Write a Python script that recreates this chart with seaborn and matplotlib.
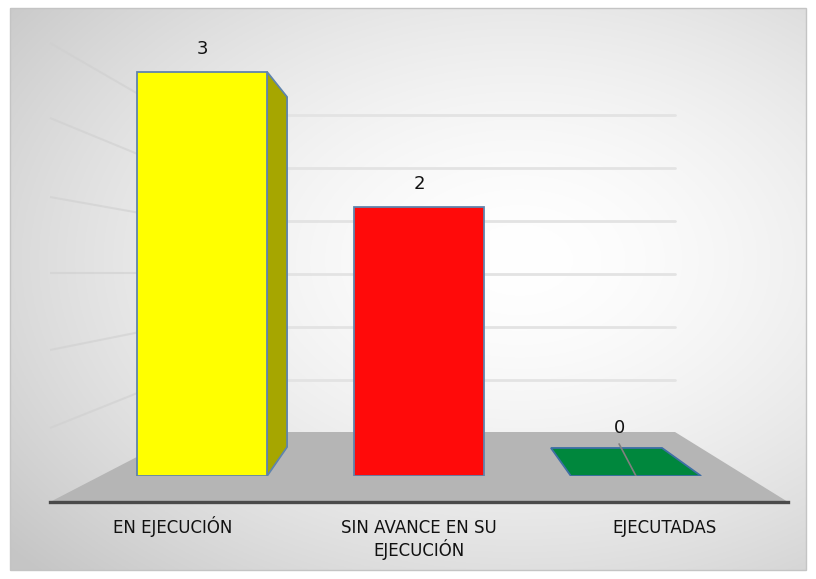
import numpy as np
import matplotlib
matplotlib.use("Agg")
import matplotlib.pyplot as plt
import matplotlib.transforms as mtransforms
import seaborn as sns
from matplotlib.patches import Polygon, Rectangle

# data
categories = ['EN EJECUCIÓN', 'SIN AVANCE EN SU\nEJECUCIÓN', 'EJECUTADAS']
values = [3, 2, 0]
bar_colors = ['#ffff00', '#ff0a0a', '#00873d']

sns.set_theme(style='white')
plt.rcParams['font.family'] = ['DejaVu Sans']

W, H = 816, 579
fig = plt.figure(figsize=(W / 100, H / 100), dpi=100)

# background axes in pixel coordinates (decoration only)
bg = fig.add_axes([0, 0, 1, 1], zorder=0)
bg.set_xlim(0, W)
bg.set_ylim(H, 0)
bg.axis('off')

xx, yy = np.meshgrid(np.linspace(10, 806, 400), np.linspace(8, 570, 300))
d = np.sqrt(((xx - 520) / 640) ** 2 + ((yy - 260) / 430) ** 2)
g = 1 - 0.21 * np.clip(d, 0, 1.05) ** 1.6
bg.imshow(np.dstack([g, g, g]), extent=(10, 806, 570, 8), aspect='auto', zorder=0)
bg.add_patch(Rectangle((10, 8), 796, 562, fill=False, ec='#c4c4c4', lw=1, zorder=1))

# side wall lines
for y0, y1 in [(43, 95), (118, 155), (197, 213), (273, 273), (350, 332), (428, 392)]:
    bg.plot([50, 140], [y0, y1], color='#cfcfcf', lw=1.5, alpha=0.6, zorder=1,
            solid_capstyle='butt')

# back wall gridlines
for y in [115, 168, 221, 274, 327, 380]:
    bg.plot([185, 675], [y, y], color='#e3e3e3', lw=2, zorder=1)

# floor
bg.add_patch(Polygon([(50, 502), (185, 432), (675, 432), (788, 502)],
                     closed=True, fc='#b5b5b5', ec='none', zorder=2))

# category axis along the front floor edge
ax_lab = fig.add_axes([50 / W, (H - 502) / H, 738 / W, 0.01], zorder=1)
ax_lab.patch.set_alpha(0)
ax_lab.set_xlim(-0.5, 2.5)
ax_lab.set_xticks([])
ax_lab.set_yticks([])
for s in ['top', 'left', 'right']:
    ax_lab.spines[s].set_visible(False)
ax_lab.spines['bottom'].set_color('#4a4a4a')
ax_lab.spines['bottom'].set_linewidth(2.4)
for i, lab in enumerate(categories):
    for k, line in enumerate(lab.split('\n')):
        tr = mtransforms.offset_copy(ax_lab.get_xaxis_transform(), fig=fig,
                                     y=-31 - 23 * k, units='dots')
        ax_lab.text(i, 0, line, transform=tr, ha='center', va='baseline', fontsize=12,
                    color='#111111')

# bar axes
unit = 134.7
ax = fig.add_axes([93.5 / W, (H - 476) / H, 651 / W, 3.3 * unit / H], zorder=2)
ax.patch.set_alpha(0)
sns.barplot(x=categories, y=values, hue=categories, palette=bar_colors, legend=False,
            width=0.6, edgecolor='#5f84ad', linewidth=1.3, saturation=1, ax=ax, zorder=3)
ax.set_xlim(-0.5, 2.5)
ax.set_ylim(0, 3.3)
ax.axis('off')

# 3D look: side face of first bar
p = ax.patches[0]
x1 = p.get_x() + p.get_width()
top = p.get_height()
ax.add_patch(Polygon([(x1, top), (x1 + 0.092, top - 0.186), (x1 + 0.092, 0.215), (x1, 0)],
                     closed=True, fc='#a6a600', ec='#5f84ad', lw=1.3, zorder=2))

# zero bar lying on the floor
p = ax.patches[2]
xl, xr = p.get_x(), p.get_x() + p.get_width()
ax.add_patch(Polygon([(xl, 0), (xr, 0), (xr - 0.18, 0.208), (xl - 0.092, 0.208)],
                     closed=True, fc=bar_colors[2], ec='#3f6fa5', lw=1.3, zorder=3))

# value labels
for i, v in enumerate(values):
    if v > 0:
        ax.text(i, v + 0.17, str(v), ha='center', va='center', fontsize=13, color='#111111')
    else:
        ax.plot([i - 0.078, i], [0.238, 0], color='#808080', lw=1.2, zorder=4)
        ax.text(i - 0.078, 0.356, str(v), ha='center', va='center', fontsize=13, color='#111111')

fig.savefig('out.png', dpi=100)
